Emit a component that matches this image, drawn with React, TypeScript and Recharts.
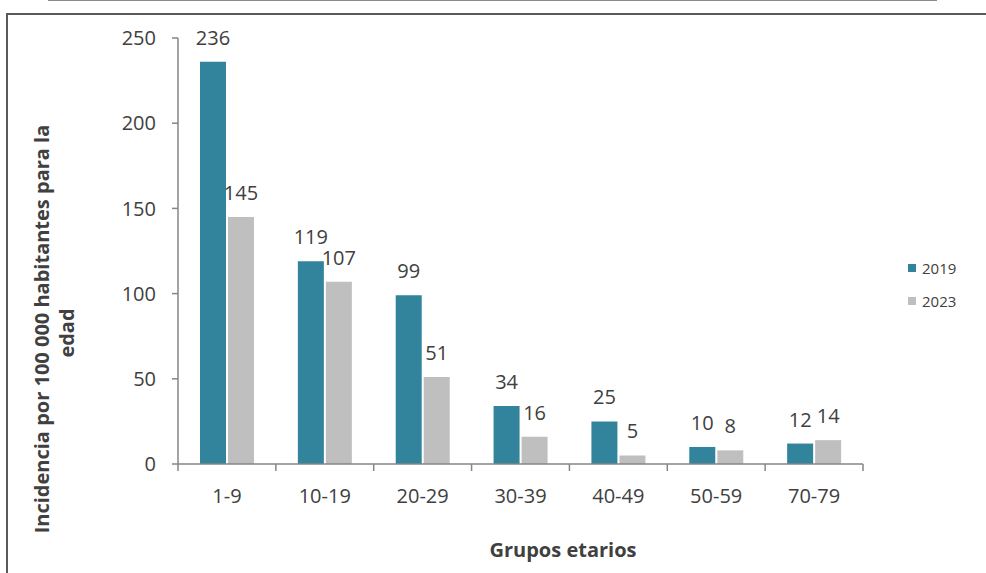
import React from 'react';
import { BarChart, Bar, XAxis, YAxis, LabelList, Label } from 'recharts';

// Age groups and incidence per 100 000 inhabitants
const groups = ['1-9', '10-19', '20-29', '30-39', '40-49', '50-59', '70-79'];
const values2019 = [236, 119, 99, 34, 25, 10, 12];
const values2023 = [145, 107, 51, 16, 5, 8, 14];
const yTicks = [0, 50, 100, 150, 200, 250];

const series = [
  { key: 'y2019', name: '2019', color: '#31849B' },
  { key: 'y2023', name: '2023', color: '#BFBFBF' },
];

const data = groups.map((g, i) => ({ group: g, y2019: values2019[i], y2023: values2023[i] }));

const FONT = "'Open Sans', sans-serif";
const TEXT = '#404040';
const AXIS = '#868686';

// Category tick: label centred under the band, tick marks on band boundaries
const BandTick = (props: any) => {
  const { x, y, payload, index, visibleTicksCount, width } = props;
  const step = width && visibleTicksCount ? width / visibleTicksCount : (payload.offset || 0) * 2;
  const left = x - step / 2;
  const right = x + step / 2;
  const axisY = y - 8;
  return (
    <g>
      <line x1={left} y1={axisY} x2={left} y2={axisY + 7} stroke={AXIS} strokeWidth={1.5} />
      {index === visibleTicksCount - 1 && (
        <line x1={right} y1={axisY} x2={right} y2={axisY + 7} stroke={AXIS} strokeWidth={1.5} />
      )}
      <text x={x} y={axisY + 31} textAnchor="middle" dominantBaseline="central" fill={TEXT} fontSize={20} fontFamily={FONT}>
        {payload.value}
      </text>
    </g>
  );
};

const YTitle = () => (
  <g fontFamily={FONT} fontWeight="bold" fontSize={20} fill={TEXT}>
    <text x={41} y={329} transform="rotate(-90 41 329)" textAnchor="middle" dominantBaseline="central">
      Incidencia por 100 000 habitantes para la
    </text>
    <text x={66} y={333} transform="rotate(-90 66 333)" textAnchor="middle" dominantBaseline="central">
      edad
    </text>
  </g>
);

const XTitle = () => (
  <text x={563} y={549} textAnchor="middle" dominantBaseline="central" fontFamily={FONT} fontWeight="bold" fontSize={20} fill={TEXT}>
    Grupos etarios
  </text>
);

export default function App() {
  return (
    <div style={{ position: 'absolute', left: 0, top: 0, width: 986, height: 573, background: '#fff', overflow: 'hidden' }}>
      <div style={{ position: 'absolute', left: 48, top: 0, width: 889, height: 1, background: '#8a8a8a' }} />
      <div style={{ position: 'absolute', left: 6, top: 13, width: 980, height: 2, background: '#5a5a5a' }} />
      <div style={{ position: 'absolute', left: 6, top: 13, width: 2, height: 560, background: '#5a5a5a' }} />
      <BarChart
        width={986}
        height={573}
        data={data}
        margin={{ top: 38, right: 123, bottom: 59, left: 118 }}
        barSize={26}
        barGap={2}
        style={{ position: 'absolute', left: 0, top: 0 }}
      >
        <XAxis
          dataKey="group"
          height={50}
          axisLine={{ stroke: AXIS, strokeWidth: 1.5 }}
          tickLine={false}
          tick={<BandTick />}
          interval={0}
        >
          <Label content={<XTitle />} />
        </XAxis>
        <YAxis
          width={60}
          domain={[0, 250]}
          ticks={yTicks}
          interval={0}
          axisLine={{ stroke: AXIS, strokeWidth: 1.5 }}
          tickLine={{ stroke: AXIS, strokeWidth: 1.5 }}
          tickSize={6}
          tickMargin={16}
          tick={{ fill: TEXT, fontSize: 20, fontFamily: FONT }}
        >
          <Label content={<YTitle />} />
        </YAxis>
        {series.map((s) => (
          <Bar key={s.key} dataKey={s.key} name={s.name} fill={s.color} isAnimationActive={false}>
            <LabelList dataKey={s.key} position="top" offset={17} fill={TEXT} fontSize={20} fontFamily={FONT} />
          </Bar>
        ))}
      </BarChart>
      {/* Series legend */}
      <div style={{ position: 'absolute', left: 908, top: 251, fontFamily: FONT }}>
        {series.map((s) => (
          <div key={s.key} style={{ display: 'flex', alignItems: 'center', height: 33 }}>
            <span style={{ width: 8, height: 8, background: s.color, display: 'inline-block', marginRight: 6 }} />
            <span style={{ fontSize: 15, color: TEXT }}>{s.name}</span>
          </div>
        ))}
      </div>
    </div>
  );
}
